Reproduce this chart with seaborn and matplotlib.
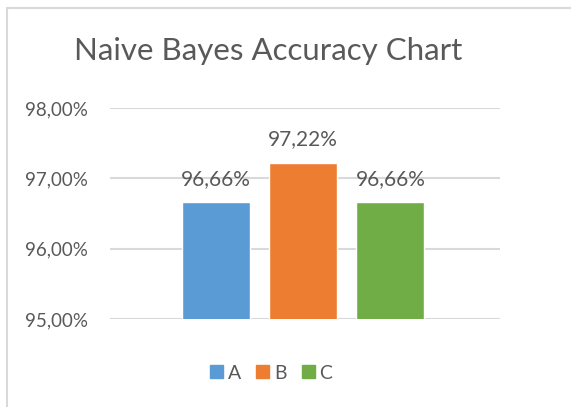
import numpy as np
import pandas as pd
import seaborn as sns
import matplotlib.pyplot as plt
from matplotlib.ticker import FuncFormatter
from matplotlib.lines import Line2D

# Data
models = ["A", "B", "C"]
accuracy = [96.66, 97.22, 96.66]
bar_colors = ["#5B9BD5", "#ED7D31", "#70AD47"]
y_ticks = [95, 96, 97, 98]

df = pd.DataFrame({"Model": models, "Accuracy": accuracy})

sns.set_style("white")
plt.rcParams['font.family'] = ['Lato', 'DejaVu Sans']
text_color = "#595959"
grid_color = "#D9D9D9"

fig = plt.figure(figsize=(5.71, 4.07), dpi=100)
ax = fig.add_axes([0.1926, 0.2162, 0.6831, 0.5184])

sns.barplot(data=df, x="Model", y="Accuracy", hue="Model", palette=bar_colors,
            saturation=1, width=0.78, legend=False, ax=ax, zorder=3)

ax.set_ylim(95, 98)
ax.set_xlim(-1.22, 3.26)
ax.set_yticks(y_ticks)
ax.yaxis.set_major_formatter(FuncFormatter(lambda v, p: f"{v:.2f}%".replace(".", ",")))
ax.grid(axis="y", color=grid_color, linewidth=1.5, zorder=0)
ax.set_axisbelow(True)
ax.tick_params(axis="y", length=0, pad=16, labelsize=13.5, labelcolor=text_color)
ax.set_xticks([])
ax.set_xlabel("")
ax.set_ylabel("")
for s in ax.spines.values():
    s.set_visible(False)

# Value labels
for i, v in enumerate(accuracy):
    ax.text(i, v + 0.19, f"{v:.2f}%".replace(".", ","), ha="center", va="bottom",
            fontsize=15, color=text_color)

# Title
fig.text(0.469, 0.874, "Naive Bayes Accuracy Chart", ha="center", va="center",
         fontsize=22.5, color=text_color)

# Legend
handles = [plt.Rectangle((0, 0), 1, 1, color=c) for c in bar_colors]
fig.legend(handles, models, loc="center", bbox_to_anchor=(0.475, 0.083), ncol=3,
           frameon=False, fontsize=14, labelcolor=text_color, handlelength=0.65,
           handleheight=0.65, handletextpad=0.25, columnspacing=0.8)

# Chart border (top and left edges visible)
fig.add_artist(Line2D([7 / 571, 1.0], [1 - 8 / 407, 1 - 8 / 407], color=grid_color,
                      linewidth=1.5, transform=fig.transFigure))
fig.add_artist(Line2D([7 / 571, 7 / 571], [0, 1 - 8 / 407], color=grid_color,
                      linewidth=1.5, transform=fig.transFigure))

fig.savefig("out.png", dpi=100)
